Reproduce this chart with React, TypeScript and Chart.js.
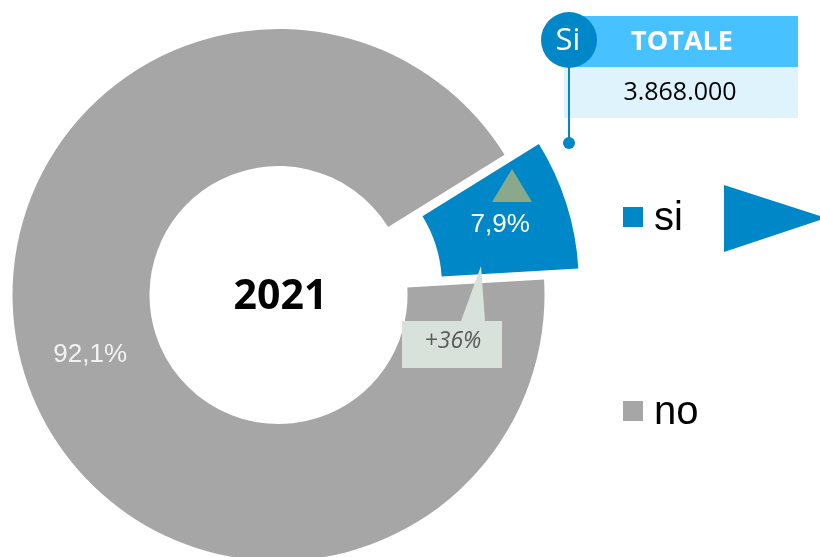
import React, { useEffect, useRef } from 'react';
import { Chart, registerables } from 'chart.js';

Chart.register(...registerables);

// ---- data ----
const categories = ['si', 'no'];
const shares = [7.9, 92.1];
const sliceColors = ['#0087C8', '#A6A6A6'];
const sliceLabelColors = ['#FFFFFF', '#F2F2F2'];
const explode = [36, 0];
const yearLabel = '2021';
const badgeLabel = 'Si';
const totalLabel = 'TOTALE';
const totalValue = '3.868.000';
const changeLabel = '+36%';

const fmt = (v: number) => v.toFixed(1).replace('.', ',') + '%';

export default function App() {
  const ref = useRef<HTMLCanvasElement>(null);

  useEffect(() => {
    const canvas = ref.current;
    if (!canvas) return;

    const explodePlugin = {
      id: 'explodeSlices',
      beforeDatasetDraw(chart: any, args: any) {
        const ctx = chart.ctx;
        args.meta.data.forEach((arc: any, i: number) => {
          const d = explode[i] || 0;
          const mid = (arc.startAngle + arc.endAngle) / 2;
          ctx.save();
          ctx.translate(Math.cos(mid) * d, Math.sin(mid) * d);
          arc.draw(ctx);
          ctx.restore();
        });
        return false;
      },
    };

    const decorPlugin = {
      id: 'decor',
      afterDraw(chart: any) {
        const ctx = chart.ctx as CanvasRenderingContext2D;
        const meta = chart.getDatasetMeta(0);
        const ds = chart.data.datasets[0];
        const labels = chart.data.labels as string[];

        // slice labels
        meta.data.forEach((arc: any, i: number) => {
          const mid = (arc.startAngle + arc.endAngle) / 2;
          const r = (arc.innerRadius + arc.outerRadius) / 2 + (explode[i] ? explode[i] - 1 : 0);
          const x = arc.x + Math.cos(mid) * r;
          const y = arc.y + Math.sin(mid) * r;
          ctx.save();
          ctx.fillStyle = sliceLabelColors[i];
          ctx.font = '26px "Liberation Sans", Arial, sans-serif';
          ctx.textAlign = 'center';
          ctx.textBaseline = 'middle';
          ctx.fillText(fmt(ds.data[i] as number), x, y);
          ctx.restore();
        });

        // center year
        const c = meta.data[0];
        ctx.save();
        ctx.fillStyle = '#000000';
        ctx.font = 'bold 41px "Open Sans", sans-serif';
        ctx.textAlign = 'center';
        ctx.textBaseline = 'middle';
        ctx.fillText(yearLabel, c.x + 2, c.y + 2);
        ctx.restore();

        // green up-triangle in the "si" slice
        ctx.save();
        ctx.fillStyle = '#8AA88A';
        ctx.beginPath();
        ctx.moveTo(512, 169);
        ctx.lineTo(532, 202);
        ctx.lineTo(492, 202);
        ctx.closePath();
        ctx.fill();
        ctx.restore();

        // +36% callout
        ctx.save();
        ctx.fillStyle = '#D9E2DA';
        ctx.beginPath();
        ctx.moveTo(402, 321);
        ctx.lineTo(461, 321);
        ctx.lineTo(481, 266);
        ctx.lineTo(485, 321);
        ctx.lineTo(502, 321);
        ctx.lineTo(502, 368);
        ctx.lineTo(402, 368);
        ctx.closePath();
        ctx.fill();
        ctx.fillStyle = '#595959';
        ctx.font = 'italic 23px "Open Sans", sans-serif';
        ctx.textAlign = 'center';
        ctx.textBaseline = 'middle';
        ctx.fillText(changeLabel, 453, 341);
        ctx.restore();

        // TOTALE box
        ctx.save();
        ctx.fillStyle = '#DFF3FD';
        ctx.fillRect(564, 67, 234, 51);
        ctx.fillStyle = '#47C1FF';
        ctx.fillRect(570, 16, 228, 51);
        ctx.strokeStyle = '#0087C8';
        ctx.lineWidth = 2;
        ctx.beginPath();
        ctx.moveTo(569, 60);
        ctx.lineTo(569, 143);
        ctx.stroke();
        ctx.fillStyle = '#0087C8';
        ctx.beginPath();
        ctx.arc(569, 143, 6, 0, Math.PI * 2);
        ctx.fill();
        ctx.beginPath();
        ctx.arc(569, 40, 28, 0, Math.PI * 2);
        ctx.fill();
        ctx.fillStyle = '#FFFFFF';
        ctx.textAlign = 'center';
        ctx.textBaseline = 'middle';
        ctx.font = '31px "Open Sans", sans-serif';
        ctx.fillText(badgeLabel, 568, 41);
        ctx.font = 'bold 27px "Open Sans", sans-serif';
        ctx.fillText(totalLabel, 682, 42);
        ctx.fillStyle = '#000000';
        ctx.font = '25px "Open Sans", sans-serif';
        ctx.fillText(totalValue, 680, 93);
        ctx.restore();

        // legend
        const legendY = [217, 411];
        labels.forEach((lab, i) => {
          ctx.save();
          ctx.fillStyle = (ds.backgroundColor as string[])[i];
          ctx.fillRect(623, legendY[i] - 10, 20, 20);
          ctx.fillStyle = '#000000';
          ctx.font = '40px "Liberation Sans", Arial, sans-serif';
          ctx.textAlign = 'left';
          ctx.textBaseline = 'alphabetic';
          ctx.fillText(lab, 654, legendY[i] + 13);
          ctx.restore();
        });

        // blue arrow
        ctx.save();
        ctx.fillStyle = '#0087C8';
        ctx.beginPath();
        ctx.moveTo(724, 185);
        ctx.lineTo(826, 218);
        ctx.lineTo(724, 252);
        ctx.closePath();
        ctx.fill();
        ctx.restore();
      },
    };

    const chart = new Chart(canvas, {
      type: 'doughnut',
      data: {
        labels: categories,
        datasets: [
          {
            data: shares,
            backgroundColor: sliceColors,
            borderWidth: 0,
            hoverOffset: 0,
          },
        ],
      },
      options: {
        responsive: false,
        maintainAspectRatio: false,
        devicePixelRatio: 1,
        animation: false,
        radius: 266,
        cutout: '48.5%',
        rotation: 58.2,
        layout: { padding: { left: 12, right: 275, top: 29, bottom: 39 } },
        plugins: {
          legend: { display: false },
          tooltip: { enabled: false },
        },
      } as any,
      plugins: [explodePlugin, decorPlugin],
    });

    return () => chart.destroy();
  }, []);

  return (
    <div
      style={{
        position: 'fixed',
        left: 0,
        top: 0,
        width: 820,
        height: 557,
        overflow: 'hidden',
        background: '#FFFFFF',
      }}
    >
      <canvas ref={ref} width={820} height={600} style={{ display: 'block' }} />
    </div>
  );
}
